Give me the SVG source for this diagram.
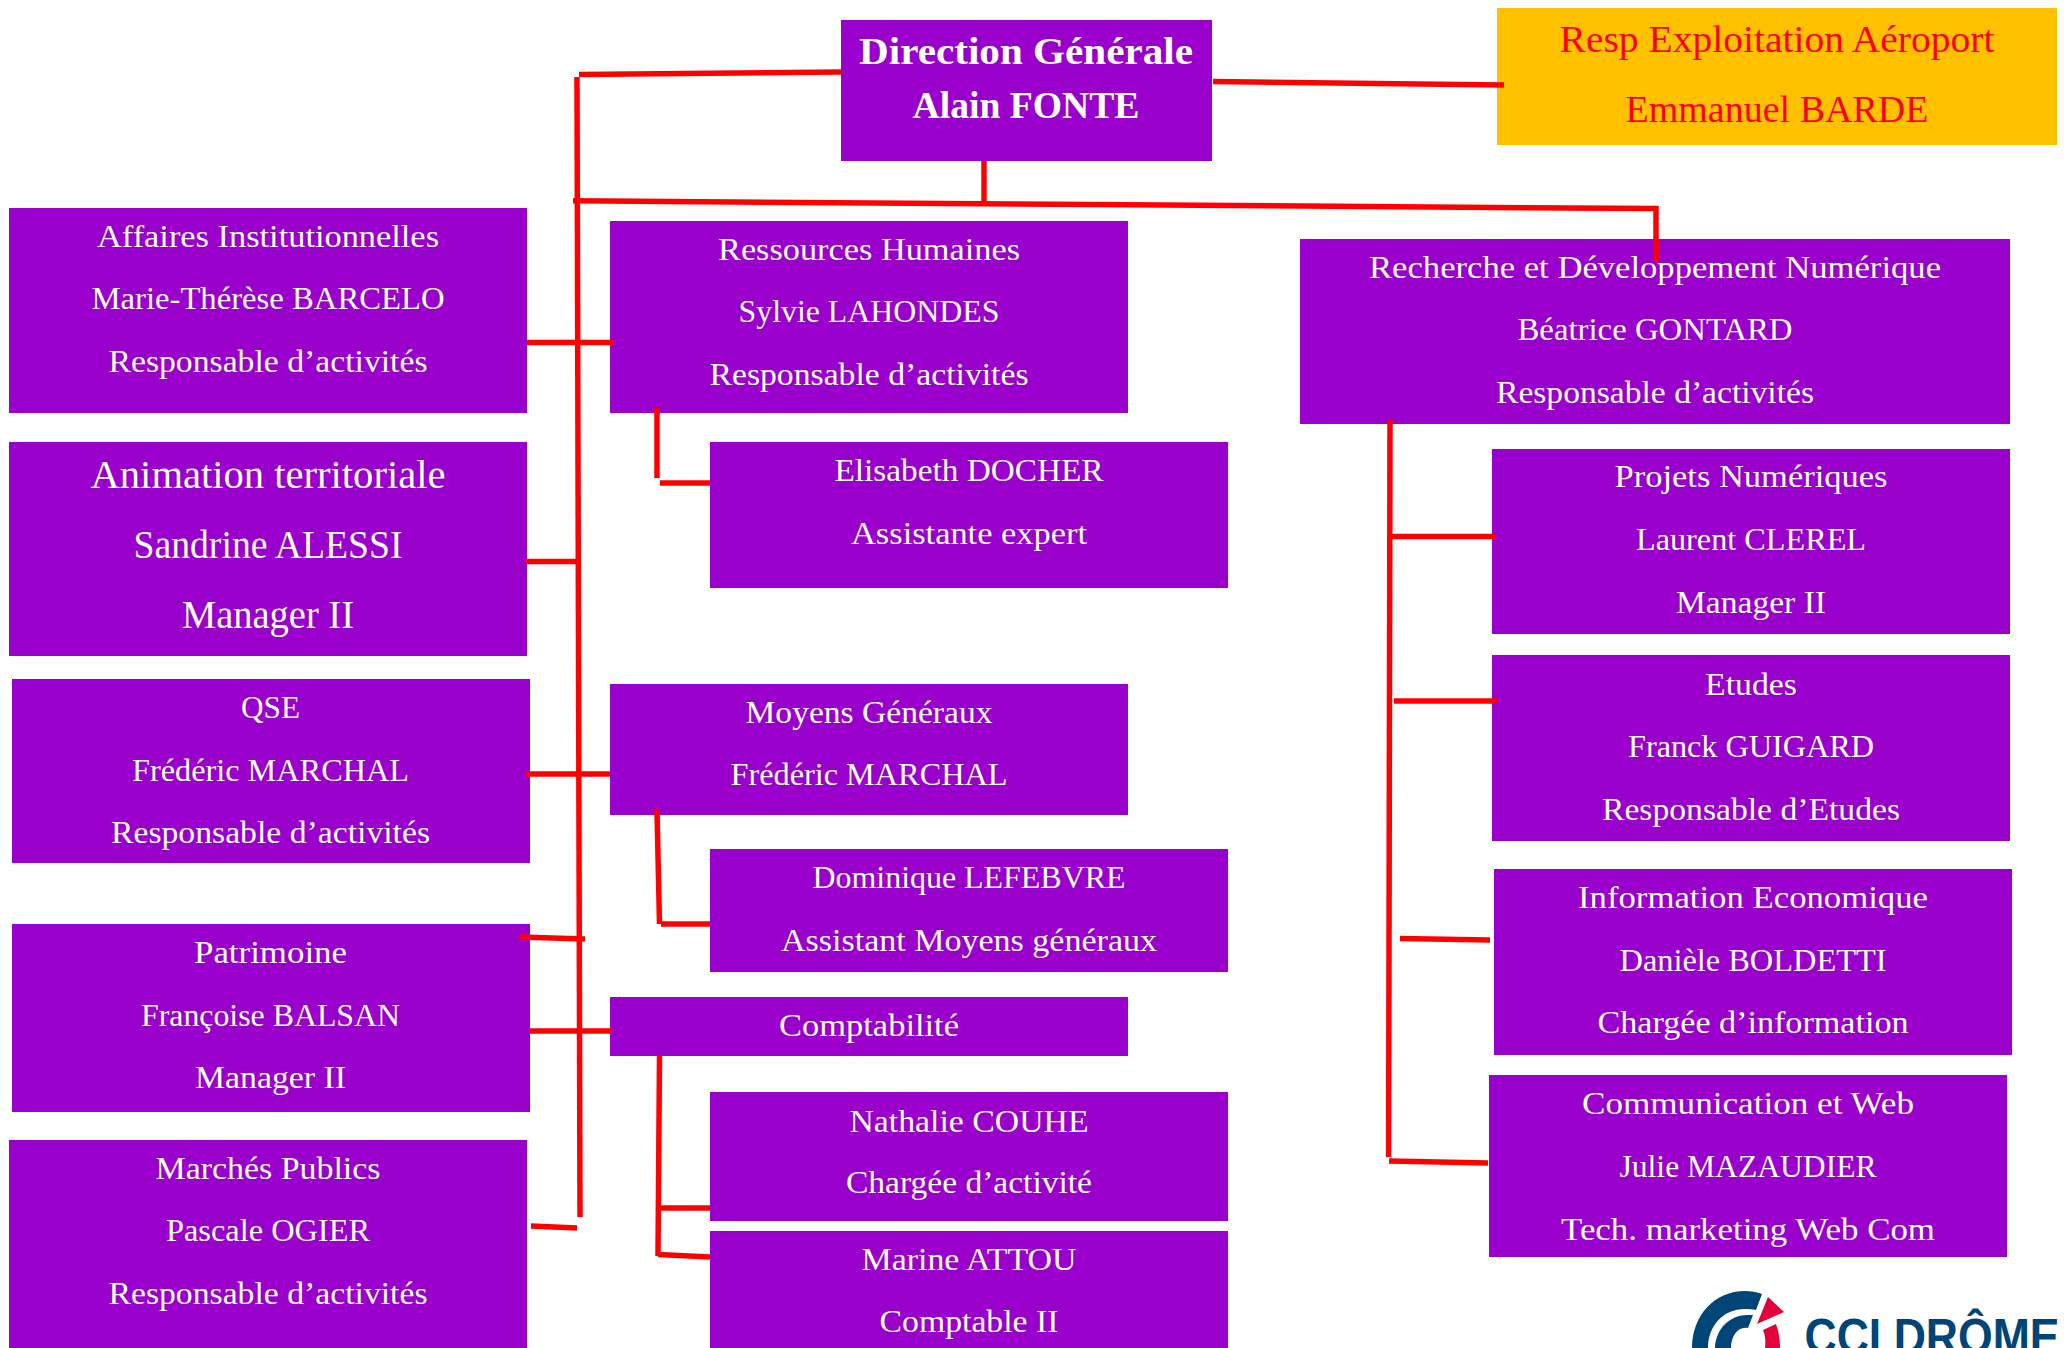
<svg xmlns="http://www.w3.org/2000/svg" width="2067" height="1348" viewBox="0 0 2067 1348">
<style>
.b{fill:#9900cb}
.g{fill:#ffc000}
text{font-family:"Liberation Serif","Times New Roman",serif;text-anchor:middle;fill:#fff;font-size:32px}
.h{font-weight:bold;font-size:37px}
.big{font-size:40px}
.r{fill:#ff0000;font-size:38px}
#connectors path{fill:none;stroke:#ff0000;stroke-width:5.500}
#logo text{font-family:"Liberation Sans",Arial,sans-serif;font-weight:bold;font-size:50px;fill:#004578}
</style>
<rect width="2067" height="1348" fill="#fff"/>
<g id="dg"><rect class="b" x="841" y="20" width="371" height="141"/>
<text class="h" x="1026" y="64" textLength="334" lengthAdjust="spacingAndGlyphs">Direction Générale</text>
<text class="h" x="1026" y="118" textLength="227" lengthAdjust="spacingAndGlyphs">Alain FONTE</text></g>
<g id="aeroport"><rect class="g" x="1497" y="8" width="560" height="137"/>
<text class="r" x="1777" y="52" textLength="435" lengthAdjust="spacingAndGlyphs">Resp Exploitation Aéroport</text>
<text class="r" x="1777" y="122" textLength="303" lengthAdjust="spacingAndGlyphs">Emmanuel BARDE</text></g>
<g id="affaires"><rect class="b" x="9" y="208" width="518" height="205"/>
<text x="268" y="247" textLength="342" lengthAdjust="spacingAndGlyphs">Affaires Institutionnelles</text>
<text x="268" y="309" textLength="353" lengthAdjust="spacingAndGlyphs">Marie-Thérèse BARCELO</text>
<text x="268" y="372" textLength="319" lengthAdjust="spacingAndGlyphs">Responsable d’activités</text></g>
<g id="animation"><rect class="b" x="9" y="442" width="518" height="214"/>
<text class="big" x="268" y="488" textLength="355" lengthAdjust="spacingAndGlyphs">Animation territoriale</text>
<text class="big" x="268" y="558" textLength="269" lengthAdjust="spacingAndGlyphs">Sandrine ALESSI</text>
<text class="big" x="268" y="628" textLength="172" lengthAdjust="spacingAndGlyphs">Manager II</text></g>
<g id="qse" transform="translate(0,1)"><rect class="b" x="12" y="678" width="518" height="184"/>
<text x="270.500" y="717" textLength="59" lengthAdjust="spacingAndGlyphs">QSE</text>
<text x="270.500" y="780" textLength="277" lengthAdjust="spacingAndGlyphs">Frédéric MARCHAL</text>
<text x="270.500" y="842" textLength="319" lengthAdjust="spacingAndGlyphs">Responsable d’activités</text></g>
<g id="patrimoine" transform="translate(0,1)"><rect class="b" x="12" y="923" width="518" height="188"/>
<text x="270.500" y="962" textLength="153" lengthAdjust="spacingAndGlyphs">Patrimoine</text>
<text x="270.500" y="1025" textLength="259" lengthAdjust="spacingAndGlyphs">Françoise BALSAN</text>
<text x="270.500" y="1087" textLength="151" lengthAdjust="spacingAndGlyphs">Manager II</text></g>
<g id="marches" transform="translate(0,1)"><rect class="b" x="9" y="1139" width="518" height="209"/>
<text x="268" y="1178" textLength="225" lengthAdjust="spacingAndGlyphs">Marchés Publics</text>
<text x="268" y="1240" textLength="204" lengthAdjust="spacingAndGlyphs">Pascale OGIER</text>
<text x="268" y="1303" textLength="319" lengthAdjust="spacingAndGlyphs">Responsable d’activités</text></g>
<g id="rh"><rect class="b" x="610" y="221" width="518" height="192"/>
<text x="869" y="260" textLength="302" lengthAdjust="spacingAndGlyphs">Ressources Humaines</text>
<text x="869" y="322" textLength="261" lengthAdjust="spacingAndGlyphs">Sylvie LAHONDES</text>
<text x="869" y="385" textLength="319" lengthAdjust="spacingAndGlyphs">Responsable d’activités</text></g>
<g id="docher"><rect class="b" x="710" y="442" width="518" height="146"/>
<text x="969" y="481" textLength="269" lengthAdjust="spacingAndGlyphs">Elisabeth DOCHER</text>
<text x="969" y="544" textLength="236" lengthAdjust="spacingAndGlyphs">Assistante expert</text></g>
<g id="moyens" transform="translate(0,1)"><rect class="b" x="610" y="683" width="518" height="131"/>
<text x="869" y="722" textLength="247" lengthAdjust="spacingAndGlyphs">Moyens Généraux</text>
<text x="869" y="784" textLength="277" lengthAdjust="spacingAndGlyphs">Frédéric MARCHAL</text></g>
<g id="lefebvre" transform="translate(0,1)"><rect class="b" x="710" y="848" width="518" height="123"/>
<text x="969" y="887" textLength="313" lengthAdjust="spacingAndGlyphs">Dominique LEFEBVRE</text>
<text x="969" y="950" textLength="376" lengthAdjust="spacingAndGlyphs">Assistant Moyens généraux</text></g>
<g id="compta" transform="translate(0,1)"><rect class="b" x="610" y="996" width="518" height="59"/>
<text x="869" y="1035" textLength="180" lengthAdjust="spacingAndGlyphs">Comptabilité</text></g>
<g id="couhe" transform="translate(0,1)"><rect class="b" x="710" y="1091" width="518" height="129"/>
<text x="969" y="1131" textLength="239" lengthAdjust="spacingAndGlyphs">Nathalie COUHE</text>
<text x="969" y="1192" textLength="246" lengthAdjust="spacingAndGlyphs">Chargée d’activité</text></g>
<g id="attou" transform="translate(0,1)"><rect class="b" x="710" y="1230" width="518" height="118"/>
<text x="969" y="1269" textLength="215" lengthAdjust="spacingAndGlyphs">Marine ATTOU</text>
<text x="969" y="1331" textLength="179" lengthAdjust="spacingAndGlyphs">Comptable II</text></g>
<g id="rd"><rect class="b" x="1300" y="239" width="710" height="185"/>
<text x="1655" y="278" textLength="572" lengthAdjust="spacingAndGlyphs">Recherche et Développement Numérique</text>
<text x="1655" y="340" textLength="275" lengthAdjust="spacingAndGlyphs">Béatrice GONTARD</text>
<text x="1655" y="403" textLength="318" lengthAdjust="spacingAndGlyphs">Responsable d’activités</text></g>
<g id="projets"><rect class="b" x="1492" y="449" width="518" height="185"/>
<text x="1751" y="487" textLength="273" lengthAdjust="spacingAndGlyphs">Projets Numériques</text>
<text x="1751" y="550" textLength="230" lengthAdjust="spacingAndGlyphs">Laurent CLEREL</text>
<text x="1751" y="613" textLength="150" lengthAdjust="spacingAndGlyphs">Manager II</text></g>
<g id="etudes"><rect class="b" x="1492" y="655" width="518" height="186"/>
<text x="1751" y="695" textLength="92" lengthAdjust="spacingAndGlyphs">Etudes</text>
<text x="1751" y="757" textLength="246" lengthAdjust="spacingAndGlyphs">Franck GUIGARD</text>
<text x="1751" y="820" textLength="298" lengthAdjust="spacingAndGlyphs">Responsable d’Etudes</text></g>
<g id="info" transform="translate(0,1)"><rect class="b" x="1494" y="868" width="518" height="186"/>
<text x="1753" y="907" textLength="350" lengthAdjust="spacingAndGlyphs">Information Economique</text>
<text x="1753" y="970" textLength="267" lengthAdjust="spacingAndGlyphs">Danièle BOLDETTI</text>
<text x="1753" y="1032" textLength="311" lengthAdjust="spacingAndGlyphs">Chargée d’information</text></g>
<g id="comm" transform="translate(0,1)"><rect class="b" x="1489" y="1074" width="518" height="182"/>
<text x="1748" y="1113" textLength="332" lengthAdjust="spacingAndGlyphs">Communication et Web</text>
<text x="1748" y="1176" textLength="257" lengthAdjust="spacingAndGlyphs">Julie MAZAUDIER</text>
<text x="1748" y="1239" textLength="374" lengthAdjust="spacingAndGlyphs">Tech. marketing Web Com</text></g>
<g id="connectors">
<path d="M577 77L580 1217"/>
<path d="M579 74.500L841 72"/>
<path d="M1213 81.500L1504 85"/>
<path d="M984 161V201"/>
<path d="M573 200.800L1656 208.600V262"/>
<path d="M527 342.500H613.500"/>
<path d="M526 561.500H576"/>
<path d="M657 408V478"/>
<path d="M660 483H710"/>
<path d="M525 774H610"/>
<path d="M519 937L585 939"/>
<path d="M530 1031H611"/>
<path d="M531 1226L577 1228"/>
<path d="M657 810L659.500 924"/>
<path d="M661 924H710"/>
<path d="M659.500 1055L658 1256"/>
<path d="M660 1208H710"/>
<path d="M658 1254.500L710 1257"/>
<path d="M1390 420L1388.600 1157"/>
<path d="M1390 536.500H1495"/>
<path d="M1394 701H1497"/>
<path d="M1400 938.500L1490 940"/>
<path d="M1389 1161L1488 1163"/>
</g>
<g id="logo">
<path d="M1692 1348C1692 1315 1715 1291 1745 1291C1751 1291 1757 1292 1762 1294L1756 1310C1752 1309 1749 1309 1745 1309C1723 1309 1708 1326 1708 1348Z" fill="#004578"/>
<path d="M1715 1348C1716 1328 1730 1315 1748 1315L1753 1315L1748 1328C1738 1326 1731 1336 1731 1348Z" fill="#004578"/>
<path d="M1768 1297L1784 1312L1757 1324Z" fill="#e4003a"/>
<path d="M1763 1330L1776 1324C1779 1332 1780 1340 1780 1348H1765C1766 1340 1765 1335 1763 1330Z" fill="#e4003a"/>
<text x="1932" y="1354" textLength="255" lengthAdjust="spacingAndGlyphs">CCI DRÔME</text>
</g>
</svg>
